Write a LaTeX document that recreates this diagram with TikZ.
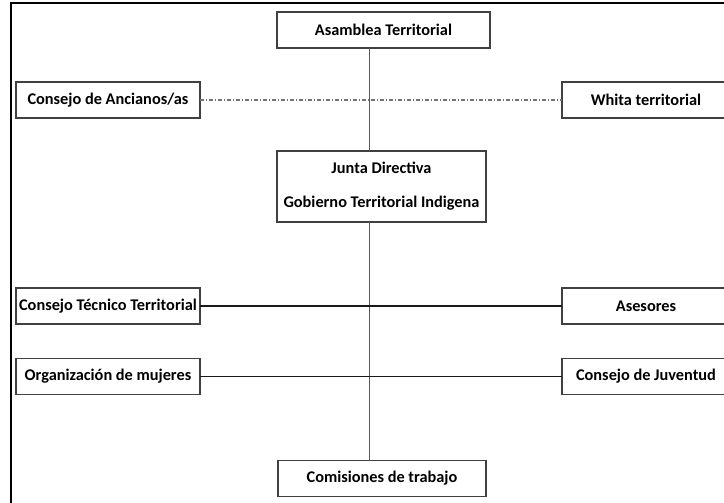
\documentclass[tikz,border=0pt]{standalone}
\usepackage{fontspec}
\setmainfont{Carlito}
\usepackage{tikz}
\usetikzlibrary{positioning}
\tikzset{caja/.style = {draw=black!75, line width=0.9pt, rectangle, inner sep=0, outer sep=0, minimum height=0.9cm, font=\fontsize{11.6}{13}\selectfont\bfseries, align=center}}
\tikzset{enlace/.style = {black!90, line width=1pt}}
\tikzset{eje/.style = {black!65, line width=0.7pt}}
\tikzset{consulta/.style = {black!55, line width=0.8pt, dash pattern=on 3pt off 1.2pt on 1pt off 1.2pt}}

\begin{document}
\begin{tikzpicture}[x=0.025cm, y=-0.025cm]
        \clip (0,0) rectangle (724,503);
        \fill [white] (0,0) rectangle (724,503);
        \draw [line width=1.2pt] (11,3) rectangle (760,540);
        \coordinate (spine) at (369,0);
        \node [caja, minimum width=5.325cm] (asamblea) at (383.5,30) {Asamblea Territorial};
        \node [caja, minimum width=4.6cm] (ancianos) at (108,100) {Consejo de Ancianos/as};
        \node [caja, minimum width=4.2cm] (whita) at (646,100) {Whita territorial};
        \node [caja, minimum width=5.225cm, minimum height=1.775cm] (junta) at (381.5,186.5) {Junta Directiva\\[11pt]Gobierno Territorial Indigena};
        \node [caja, minimum width=4.6cm] (tecnico) at (108,306) {Consejo Técnico Territorial};
        \node [caja, minimum width=4.2cm] (asesores) at (646,306) {Asesores};
        \node [caja, minimum width=4.6cm] (mujeres) at (108,376.5) {Organización de mujeres};
        \node [caja, minimum width=4.2cm] (juventud) at (646,376.5) {Consejo de Juventud};
        \node [caja, minimum width=5.2cm] (comisiones) at (382,478.5) {Comisiones de trabajo};
        \draw [consulta] (ancianos.east) -- (whita.west);
        \draw [eje] (asamblea.south -| spine) -- (junta.north -| spine);
        \draw [eje] (junta.south -| spine) -- (comisiones.north -| spine);
        \draw [enlace] (tecnico.east) -- (asesores.west);
        \draw [enlace] (mujeres.east) -- (juventud.west);
    \end{tikzpicture}
\end{document}
